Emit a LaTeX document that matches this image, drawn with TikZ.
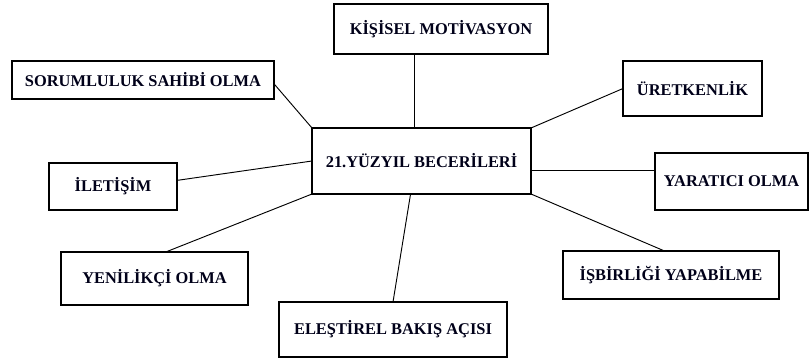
\documentclass[tikz,border=0pt]{standalone}
\usepackage{fontspec}
\setmainfont{Liberation Serif}
\usepackage{tikz}
\usetikzlibrary{calc}
\tikzset{
  skill/.style 2 args={draw=black, line width=1pt, inner sep=0pt, outer sep=0pt,
    minimum width=#1*0.03cm, minimum height=#2*0.03cm,
    font=\fontsize{14}{16}\selectfont\bfseries, text=black!90!blue},
  link/.style={draw=black, line width=0.8pt},
}

\begin{document}
\begin{tikzpicture}[x=0.03cm, y=-0.03cm]
  \useasboundingbox[fill=white] (0,0) rectangle (810,358);

  % boxes
  \node[skill={219}{66}] (core) at (421.5,161) {21.YÜZYIL BECERİLERİ};
  \node[skill={214}{50}] (motiv) at (441,29) {KİŞİSEL MOTİVASYON};
  \node[skill={262}{38}] (resp) at (143,80) {SORUMLULUK SAHİBİ OLMA};
  \node[skill={139}{55}] (prod) at (692.5,88.5) {ÜRETKENLİK};
  \node[skill={153}{57}] (creat) at (731.5,181.5) {YARATICI OLMA};
  \node[skill={128}{47}] (comm) at (113,186.5) {İLETİŞİM};
  \node[skill={187}{53}] (innov) at (154.5,278.5) {YENİLİKÇİ OLMA};
  \node[skill={228}{55}] (crit) at (393,329.5) {ELEŞTİREL BAKIŞ AÇISI};
  \node[skill={216}{48}] (collab) at (671,275) {İŞBİRLİĞİ YAPABİLME};

  % connectors
  \draw[link] ($(motiv.south west)!0.375!(motiv.south east)$) coordinate (m) -- (m |- core.north);
  \draw[link] ($(resp.north east)!0.6!(resp.south east)$) -- (core.north west);
  \draw[link] (prod.west) -- (core.north east);
  \draw[link] ($(core.north east)!0.64!(core.south east)$) coordinate (ce) -- (ce -| creat.west);
  \draw[link] ($(comm.north east)!0.37!(comm.south east)$) -- (core.west);
  \draw[link] (core.south west) -- ($(innov.north west)!0.56!(innov.north east)$);
  \draw[link] ($(core.south west)!0.45!(core.south east)$) -- (crit.north);
  \draw[link] (core.south east) -- ($(collab.north west)!0.47!(collab.north east)$);
\end{tikzpicture}
\end{document}
